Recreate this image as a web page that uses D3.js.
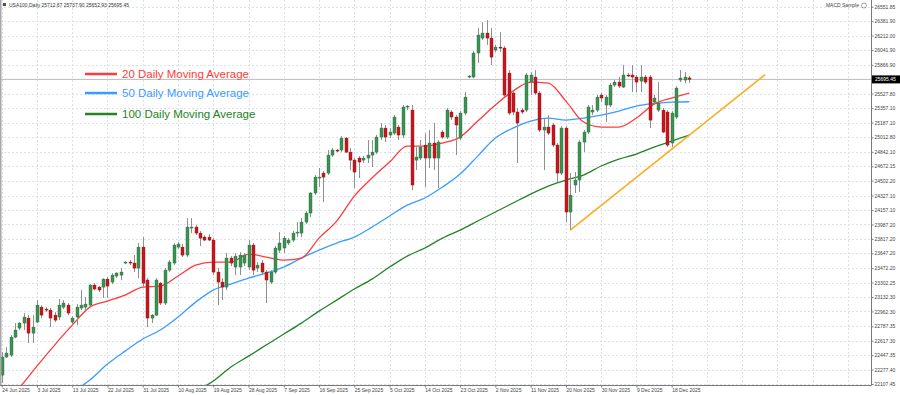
<!DOCTYPE html>
<html>
<head>
<meta charset="utf-8">
<script src="https://cdn.jsdelivr.net/npm/d3@7"></script>
<style>
  body { margin: 0; background: #fff; }
  svg { display: block; font-family: "Liberation Sans", Arial, sans-serif; }
</style>
</head>
<body>
<div id="chart"></div>
<script>
// daily candles, 24 Jun 2025 .. 19 Dec 2025 : [open, high, low, close]
var ohlc = [
  [22212,22483,22118,22425],[22425,22542,22413,22472],[22448,22684,22425,22660],[22660,22825,22648,22743],
  [22766,22837,22743,22825],[22825,22943,22743,22896],[22884,22919,22590,22707],[22707,22919,22590,22778],
  [22837,23096,22825,23037],[23013,23037,22884,22919],[22990,23013,22955,22978],[22978,23002,22778,22884],
  [22919,22955,22837,22860],[22896,23108,22860,23037],[23013,23096,22990,23061],[23037,23061,22919,22943],
  [22837,22907,22801,22884],[22896,23049,22801,23013],[23002,23214,22978,23037],[23013,23131,22978,23049],
  [23037,23284,23025,23273],[23273,23296,23214,23226],[23249,23261,23190,23214],[23249,23355,23120,23343],
  [23343,23367,23120,23261],[23308,23414,23284,23390],[23379,23426,23355,23414],[23390,23473,23332,23426],
  [23532,23555,23520,23544],[23544,23567,23508,23532],[23532,23626,23426,23473],[23473,23768,23355,23720],
  [23720,23838,23249,23296],[23332,23355,22778,22884],[22884,22931,22825,22919],[22919,23355,22907,23332],
  [23296,23308,23037,23061],[23061,23473,23037,23449],[23449,23567,23426,23544],[23532,23768,23508,23744],
  [23720,23779,23697,23756],[23720,23756,23603,23626],[23626,24062,23603,23956],[23944,24062,23885,23956],
  [23956,23980,23862,23885],[23885,23909,23732,23826],[23838,23862,23791,23803],[23838,23874,23791,23803],
  [23803,23826,23390,23426],[23426,23473,23037,23308],[23308,23355,23096,23249],[23249,23650,23214,23591],
  [23591,23614,23497,23532],[23485,23650,23390,23614],[23485,23661,23390,23626],[23532,23650,23497,23626],
  [23485,23803,23449,23744],[23744,23768,23390,23449],[23473,23544,23426,23508],[23532,23567,23390,23426],
  [23426,23449,23061,23332],[23308,23449,23284,23426],[23426,23732,23402,23709],[23685,23897,23650,23768],
  [23709,23850,23650,23826],[23768,23826,23744,23803],[23803,23909,23779,23885],[23885,24015,23838,23897],
  [23885,24062,23838,24015],[24015,24144,23991,24121],[24121,24368,24074,24357],[24357,24569,24333,24545],
  [24533,24651,24427,24545],[24592,24616,24250,24545],[24592,24863,24569,24804],[24804,24887,24781,24863],
  [24863,24875,24839,24851],[24863,25028,24839,25004],[25004,25016,24828,24839],[24839,24887,24627,24745],
  [24745,24769,24415,24604],[24769,24792,24533,24722],[24745,24792,24710,24769],[24769,24981,24710,24804],
  [24804,24981,24663,24839],[24839,25040,24816,25016],[25016,25181,24981,25122],[25122,25158,24957,25016],
  [25040,25122,25004,25075],[25063,25275,25040,25252],[25134,25158,24981,25040],[25040,25393,25004,25370],
  [25370,25393,25334,25381],[25334,25393,24392,24451],[24745,24898,24627,24781],[24769,24981,24745,24898],
  [24922,25063,24427,24769],[24769,25099,24651,24946],[24946,25181,24627,24769],[24769,24981,24415,24957],
  [25075,25099,24993,25016],[25016,25358,24993,25334],[25311,25334,25216,25252],[25252,25275,24804,25158],
  [25004,25322,24981,25299],[25299,25546,25275,25487],[25723,25747,25711,25735],[25723,26029,25711,26006],
  [26006,26300,25888,26218],[26182,26371,26159,26241],[26241,26394,26100,26182],[26182,26300,25864,25958],
  [26041,26100,26017,26076],[26076,26253,26017,26065],[26065,26088,25487,25511],[25770,25805,25275,25299],
  [25535,25558,25275,25311],[25311,25358,24710,25181],[25334,25358,25287,25311],[25334,25770,25311,25747],
  [25664,25782,25511,25747],[25723,25805,25511,25535],[25535,25558,25075,25099],[25099,25240,24627,25134],
  [25134,25275,25040,25063],[25158,25181,24898,24922],[24922,24946,24486,24592],[24592,25146,24569,25122],
  [25122,25146,24015,24133],[24133,24592,23921,24333],[24451,24604,24357,24510],[24510,24981,24368,24957],
  [24957,25099,24839,25075],[25075,25393,25052,25370],[25311,25393,25275,25334],[25334,25511,25311,25487],
  [25511,25535,25428,25476],[25393,25511,25193,25487],[25393,25652,25370,25629],[25629,25688,25605,25664],
  [25664,25723,25593,25617],[25605,25864,25593,25747],[25747,25770,25723,25735],[25747,25864,25546,25723],
  [25723,25747,25546,25664],[25676,25864,25546,25723],[25723,25747,25641,25664],[25723,25747,25122,25216],
  [25428,25511,25405,25476],[25334,25664,25311,25417],[25334,25358,25063,25075],[25311,25334,24898,24922],
  [24946,25322,24898,25299],[25252,25617,25228,25593],[25688,25805,25664,25711],[25688,25782,25652,25723],
  [25712.67,25737.90,25652.93,25695.45]
]

// moving averages read every 4 bars
var ma20Start = 4
var ma20 = [22059,22319,22566,22801,23013,23084,23155,23249,23261,23379,23508,23544,23544,23638,23603,23567,
  23591,23826,24027,24321,24533,24722,24910,24910,24946,25016,25205,25393,25558,25664,25652,25440,25193,25134,
  25134,25240,25405,25476,25535]
var ma50Start = 16
var ma50 = [22012,22154,22343,22495,22637,22743,22896,23072,23214,23284,23355,23414,23485,23591,23685,23768,
  23838,23956,24086,24215,24298,24427,24580,24792,25004,25122,25205,25240,25216,25240,25275,25322,25381,25411,
  25428,25432]
var ma100Start = 44
var ma100 = [22024,22142,22307,22436,22566,22696,22825,22966,23096,23226,23343,23485,23614,23709,23826,23921,
  24027,24133,24239,24345,24439,24510,24569,24675,24757,24816,24898,24969,25040]

// support trendline: [bar, price]
var trendLine = [[129, 23921], [173.2, 25751]]

var xLabels = ["24 Jun 2025","3 Jul 2025","13 Jul 2025","22 Jul 2025","31 Jul 2025","10 Aug 2025","19 Aug 2025",
  "28 Aug 2025","7 Sep 2025","16 Sep 2025","25 Sep 2025","5 Oct 2025","14 Oct 2025","23 Oct 2025","2 Nov 2025",
  "11 Nov 2025","20 Nov 2025","30 Nov 2025","9 Dec 2025","18 Dec 2025"]

var yTicks = [22107.45,22277.40,22447.35,22617.30,22787.35,22962.30,23132.30,23302.25,23472.20,23647.20,23817.20,
  23987.20,24157.10,24327.10,24502.20,24672.15,24842.10,25012.80,25187.10,25357.10,25527.80,25697.00,25866.90,
  26041.90,26212.00,26381.90,26551.85]

var legendItems = ["20 Daily Moving Average", "50 Daily Moving Average", "100 Daily Moving Average"]
var maColors = ["#ff3b3b", "#3b9cff", "#238423"]

var width = 900, height = 395
var plotRight = 871, plotBottom = 385

var svg = d3.select("#chart").append("svg")
  .attr("width", width).attr("height", height)

svg.append("defs").append("clipPath").attr("id", "plotClip")
  .append("rect").attr("x", 0).attr("y", 0).attr("width", plotRight).attr("height", plotBottom)

var x = d3.scaleLinear().domain([0, 156]).range([1.7, 689.3])
var y = d3.scaleLinear().domain([22107.45, 26551.85]).range([384, 6.7])

// grid
var grid = svg.append("g").attr("clip-path", "url(#plotClip)")
grid.selectAll(".hgrid").data(yTicks).enter().append("line")
  .attr("x1", 0).attr("x2", plotRight)
  .attr("y1", function (d) { return Math.round(y(d)) + 0.5 })
  .attr("y2", function (d) { return Math.round(y(d)) + 0.5 })
  .attr("stroke", "#dbe1ec").attr("stroke-dasharray", "2,2")
grid.selectAll(".vgrid").data(d3.range(0, 200, 8)).enter().append("line")
  .attr("y1", 0).attr("y2", plotBottom)
  .attr("x1", function (d) { return Math.round(x(d)) + 0.5 })
  .attr("x2", function (d) { return Math.round(x(d)) + 0.5 })
  .attr("stroke", "#dbe1ec").attr("stroke-dasharray", "2,2")

// bid line
var lastClose = ohlc[ohlc.length - 1][3]
svg.append("line")
  .attr("x1", 0).attr("x2", plotRight)
  .attr("y1", y(lastClose)).attr("y2", y(lastClose))
  .attr("stroke", "#bdbdbd").attr("stroke-width", 1)

var plot = svg.append("g").attr("clip-path", "url(#plotClip)")

// moving averages
var line = d3.line()
  .x(function (d) { return x(d[0]) })
  .y(function (d) { return y(d[1]) })
  .curve(d3.curveMonotoneX)

function maPoints(start, values) {
  return values.map(function (v, i) { return [start + i * 4, v] })
}

var maSeries = [maPoints(ma100Start, ma100), maPoints(ma50Start, ma50), maPoints(ma20Start, ma20)]
var maCol = [maColors[2], maColors[1], maColors[0]]
maSeries.forEach(function (pts, i) {
  plot.append("path").datum(pts)
    .attr("d", line)
    .attr("fill", "none")
    .attr("stroke", maCol[i])
    .attr("stroke-width", 1.3)
})

// candles
var candles = plot.selectAll(".candle").data(ohlc).enter().append("g")

candles.append("line")
  .attr("x1", function (d, i) { return Math.round(x(i)) + 0.5 })
  .attr("x2", function (d, i) { return Math.round(x(i)) + 0.5 })
  .attr("y1", function (d) { return y(d[1]) })
  .attr("y2", function (d) { return y(d[2]) })
  .attr("stroke", "#8f8f8f").attr("stroke-width", 1)

candles.append("rect")
  .attr("x", function (d, i) { return Math.round(x(i)) - 1 })
  .attr("width", 3)
  .attr("y", function (d) { return y(Math.max(d[0], d[3])) })
  .attr("height", function (d) { return Math.max(1, Math.abs(y(d[0]) - y(d[3]))) })
  .attr("fill", function (d) { return d[3] >= d[0] ? "#3a9253" : "#c8161d" })
  .attr("stroke", function (d) { return d[3] >= d[0] ? "#2b6a3b" : "#8e1010" })
  .attr("stroke-width", 0.4)

// trendline
plot.append("line")
  .attr("x1", x(trendLine[0][0])).attr("y1", y(trendLine[0][1]))
  .attr("x2", x(trendLine[1][0])).attr("y2", y(trendLine[1][1]))
  .attr("stroke", "#ffab1f").attr("stroke-width", 1.6)

// frame
svg.append("line").attr("x1", plotRight + 0.5).attr("x2", plotRight + 0.5).attr("y1", 0).attr("y2", plotBottom + 0.5)
  .attr("stroke", "#7a7a7a")
svg.append("line").attr("x1", 0).attr("x2", plotRight + 0.5).attr("y1", plotBottom + 0.5).attr("y2", plotBottom + 0.5)
  .attr("stroke", "#7a7a7a")
svg.append("rect").attr("x", 0).attr("y", 0).attr("width", 1.5).attr("height", plotBottom)
  .attr("fill", "#a8a8a8")

// axes
var yAxis = d3.axisRight(y).tickValues(yTicks).tickSize(2).tickFormat(d3.format(".2f"))
var gy = svg.append("g").attr("transform", "translate(" + (plotRight + 0.5) + ",0)").call(yAxis)
gy.select(".domain").remove()
gy.selectAll(".tick line").attr("stroke", "#7a7a7a")
gy.selectAll(".tick text").attr("x", 3).attr("fill", "#444").style("font-size", "5px")

var xAxis = d3.axisBottom(x)
  .tickValues(d3.range(0, xLabels.length * 8, 8))
  .tickFormat(function (d, i) { return xLabels[i] })
  .tickSize(2)
var gx = svg.append("g").attr("transform", "translate(0," + (plotBottom + 0.5) + ")").call(xAxis)
gx.select(".domain").remove()
gx.selectAll(".tick line").attr("stroke", "#7a7a7a")
gx.selectAll(".tick text").attr("text-anchor", "start").attr("y", 3).attr("dx", 0)
  .attr("fill", "#444").style("font-size", "5px")

// last price label
var lp = svg.append("g").attr("transform", "translate(" + (plotRight + 1) + "," + y(lastClose) + ")")
lp.append("rect").attr("x", 0).attr("y", -4).attr("width", 28).attr("height", 8).attr("fill", "#000")
lp.append("text").attr("x", 3).attr("y", 2).attr("fill", "#fff").style("font-size", "5px").text(d3.format(".2f")(lastClose))

// title and expert label
svg.append("rect").attr("x", 3).attr("y", 3).attr("width", 3).attr("height", 3).attr("fill", "#555")
svg.append("text").attr("x", 9).attr("y", 7).attr("fill", "#333").style("font-size", "5px")
  .text("USA100,Daily  " + ohlc[ohlc.length - 1].map(d3.format(".2f")).join(" "))
svg.append("text").attr("x", 859).attr("y", 7).attr("text-anchor", "end").attr("fill", "#444").style("font-size", "5px")
  .text("MACD Sample")
svg.append("circle").attr("cx", 864).attr("cy", 5.5).attr("r", 2.5).attr("fill", "none").attr("stroke", "#666").attr("stroke-width", 0.6)

// legend
var legend = svg.append("g")
legendItems.forEach(function (t, i) {
  var ly = [74, 93, 114][i]
  legend.append("line").attr("x1", 85).attr("x2", 117).attr("y1", ly).attr("y2", ly)
    .attr("stroke", maColors[i]).attr("stroke-width", 2.5)
  legend.append("text").attr("x", 122).attr("y", ly + 4).attr("fill", maColors[i])
    .style("font-size", "11.5px").text(t)
})
</script>
</body>
</html>
